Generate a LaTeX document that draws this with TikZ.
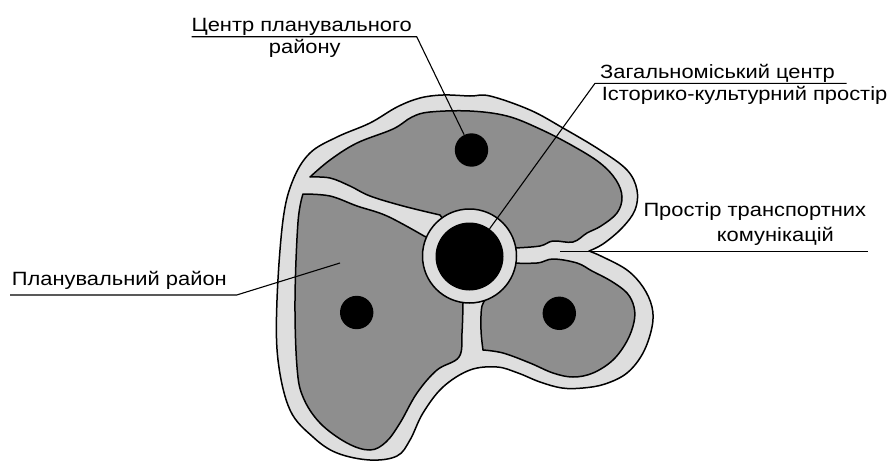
\documentclass[tikz,border=0pt]{standalone}
\usepackage{graphicx}
\usepackage{fontspec}
\setmainfont{Liberation Sans}
\definecolor{regfill}{RGB}{142,142,142}
\definecolor{roadfill}{RGB}{222,222,222}
\begin{document}
\begin{tikzpicture}[x=1pt,y=-1pt,
  outline/.style={draw=black, line width=1.5pt, line join=round},
  region/.style={outline, fill=regfill},
  band/.style={outline, fill=roadfill},
  dot/.style={circle, fill=black, inner sep=0pt, minimum size=#1},
  lbl/.style={inner sep=0pt, font=\fontsize{19.2}{22}\selectfont, text=black},
  leader/.style={draw=black, line width=1.1pt}]
\useasboundingbox (0,0) rectangle (894,463);
% outer band
\path[band] plot[smooth, tension=0.6] coordinates {(589,251) (603,257) (627,270) (643,287) (652,307) (652,327) (643,353) (627,373) (605,384) (583,388) (562,388) (540,382) (518,373) (497,367) (470,370) (443,387) (423,413) (410,440) (397,456) (370,460) (337,453) (313,437) (290,410) (278,360) (277,300) (283,220) (293,180) (310,153) (337,137) (370,123) (397,107) (420,98) (443,95) (470,96) (490,96) (530,110) (563,128) (600,150) (627,170) (637,190) (635,210) (622,228) (603,244) (589,251)} -- cycle;
% region A (top)
\path[region] plot[smooth, tension=0.6] coordinates {(440,215) (403,206) (370,196) (350,186) (330,178) (310,177)} -- plot[smooth, tension=0.6] coordinates {(310,177) (330,160) (357,143) (393,129) (412,117) (430,112) (470,111) (507,116) (540,129) (573,146) (600,163) (616,180) (622,197) (617,213) (601,226) (587,233) (573,242) (553,241) (540,246) (515,248)} -- (469,256) -- cycle;
% region B (left)
\path[region] (469,256) -- plot[smooth, tension=0.6] coordinates {(424,236) (387,216) (357,206) (330,196) (303,194)} -- plot[smooth, tension=0.6] coordinates {(303,194) (298,222) (295,300) (297,367) (303,397) (320,423) (347,443) (370,450) (386,442) (400,423) (417,393) (437,370) (459,357) (462,333) (463,303)} -- cycle;
% region C (right)
\path[region] (469,256) -- plot[smooth, tension=0.6] coordinates {(508,263) (537,263) (553,259) (577,263) (592,271) (611,281) (627,293) (634,307) (634,322) (627,341) (613,360) (593,373) (573,377) (553,373) (530,363) (503,353) (483,350)} -- plot[smooth, tension=0.6] coordinates {(483,350) (481,330) (482,306) (489,296)} -- cycle;
% ring and centres
\node[circle, outline, fill=roadfill, minimum size=94pt, inner sep=0pt] (ring) at (469.5,256) {};
\node[dot=68pt] (cdisk) at (469.5,256.5) {};
\node[dot=33.4pt] (da) at (471.5,150) {};
\node[dot=33.4pt] (db) at (356.7,312.5) {};
\node[dot=33.4pt] (dc) at (559.3,313.3) {};
% labels
\node[lbl, anchor=base] (t1a) at (301.7,31.7) {\scalebox{1.14}[1]{Центр планувального}};
\node[lbl, anchor=base] (t1b) at (304.8,53.3) {\scalebox{1.14}[1]{району}};
\node[lbl, anchor=base west] (t2a) at (600,78.3) {\scalebox{1.14}[1]{Загальноміський центр}};
\node[lbl, anchor=base west] (t2b) at (601.7,100) {\scalebox{1.14}[1]{Історико-культурний простір}};
\node[lbl, anchor=base west] (t3a) at (643.3,216.7) {\scalebox{1.14}[1]{Простір транспортних}};
\node[lbl, anchor=base west] (t3b) at (716.7,241.7) {\scalebox{1.14}[1]{комунікацій}};
\node[lbl, anchor=base west] (t4) at (11.7,285) {\scalebox{1.14}[1]{Планувальний район}};
% leaders
\coordinate (u1a) at (191.7,36.7);
\coordinate (u1b) at (416.7,36.7);
\coordinate (u2a) at (595,83.3);
\coordinate (u2b) at (846.7,83.3);
\coordinate (u3a) at (560,251.7);
\coordinate (u3b) at (868.3,251.7);
\coordinate (u4a) at (10,295);
\coordinate (u4b) at (236.7,295);
\coordinate (u4c) at (340,263);
\draw[leader] (u1a) -- (u1b) -- (da);
\draw[leader] (u2b) -- (u2a) -- (cdisk);
\draw[leader] (u3a) -- (u3b);
\draw[leader] (u4a) -- (u4b) -- (u4c);
\end{tikzpicture}
\end{document}
